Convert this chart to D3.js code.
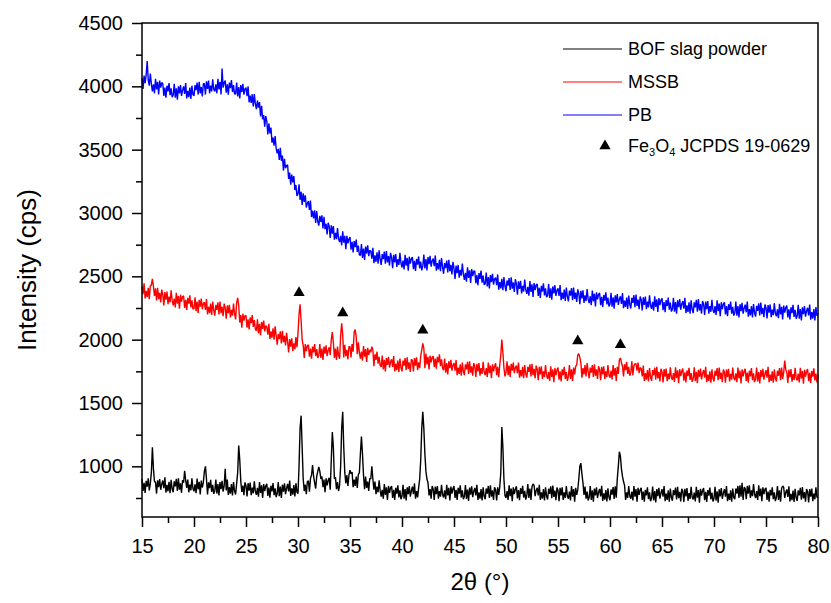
<!DOCTYPE html>
<html>
<head>
<meta charset="utf-8">
<script src="https://cdn.jsdelivr.net/npm/d3@7"></script>
<style>
  body { margin: 0; background: #fff; }
  text { font-family: 'Liberation Sans', Arial, sans-serif; fill: #000; }
</style>
</head>
<body>
<div id="chart"></div>
<script>
// XRD scans, 2theta from 15 to 80 in 0.1 degree steps (one row = 1 degree)
var angleStart = 15
var angleStep = 0.1

var bofSlag = [
  900, 805, 870, 790, 885, 840, 905, 810, 865, 950,
  1150, 980, 880, 875, 785, 890, 835, 900, 815, 860,
  888, 828, 913, 793, 853, 803, 878, 788, 893, 823,
  796, 881, 841, 901, 806, 906, 816, 866, 791, 891,
  870, 965, 890, 830, 895, 795, 855, 810, 905, 825,
  803, 858, 788, 903, 818, 878, 778, 888, 833, 873,
  960, 1000, 900, 778, 873, 828, 893, 798, 853, 783,
  805, 895, 785, 860, 770, 875, 820, 885, 800, 845,
  980, 810, 895, 775, 835, 785, 860, 770, 875, 805,
  778, 863, 950, 1165, 1050, 880, 798, 848, 773, 873,
  847, 762, 867, 807, 872, 772, 832, 787, 882, 802,
  775, 830, 760, 875, 790, 850, 750, 860, 805, 845,
  862, 767, 832, 752, 847, 802, 867, 772, 827, 757,
  785, 875, 765, 840, 750, 855, 800, 865, 780, 825,
  862, 802, 887, 767, 827, 777, 852, 762, 867, 797,
  785, 1000, 1300, 1400, 1150, 900, 805, 855, 780, 880,
  885, 800, 905, 930, 1010, 920, 870, 825, 920, 960,
  995, 960, 900, 920, 835, 895, 795, 905, 850, 890,
  910, 815, 1050, 1270, 1150, 900, 915, 820, 875, 805,
  850, 1000, 1300, 1430, 1150, 950, 865, 930, 845, 930,
  970, 940, 955, 835, 895, 845, 920, 830, 935, 950,
  1100, 1235, 1100, 930, 820, 920, 830, 880, 805, 905,
  900, 1000, 900, 815, 880, 780, 840, 795, 890, 810,
  760, 815, 745, 860, 775, 835, 735, 845, 790, 830,
  845, 750, 815, 735, 830, 785, 850, 755, 810, 740,
  765, 855, 745, 820, 730, 835, 780, 845, 760, 805,
  840, 780, 865, 745, 805, 755, 830, 900, 1050, 1300,
  1430, 1300, 1100, 960, 900, 870, 770, 820, 745, 845,
  820, 735, 840, 780, 845, 745, 805, 760, 855, 775,
  755, 810, 740, 855, 770, 830, 730, 840, 785, 825,
  845, 750, 815, 735, 830, 785, 850, 755, 810, 740,
  762, 852, 742, 817, 727, 832, 777, 842, 757, 802,
  830, 770, 855, 735, 795, 745, 820, 730, 835, 765,
  740, 825, 785, 845, 750, 850, 760, 810, 735, 835,
  815, 730, 835, 775, 840, 950, 1310, 1150, 900, 770,
  750, 805, 735, 850, 765, 825, 725, 835, 780, 820,
  842, 747, 812, 732, 827, 782, 847, 752, 807, 737,
  770, 860, 750, 825, 735, 840, 860, 850, 765, 810,
  830, 770, 855, 735, 795, 745, 820, 730, 835, 765,
  738, 823, 783, 843, 748, 848, 758, 808, 733, 833,
  810, 725, 830, 770, 835, 735, 795, 750, 845, 765,
  745, 800, 730, 845, 760, 820, 720, 830, 775, 815,
  900, 1000, 1025, 940, 870, 775, 840, 745, 800, 730,
  755, 845, 735, 810, 720, 825, 770, 835, 750, 795,
  822, 762, 847, 727, 787, 737, 812, 722, 827, 757,
  732, 817, 777, 837, 742, 842, 752, 900, 1000, 1115,
  1080, 980, 920, 880, 850, 735, 795, 750, 845, 765,
  745, 800, 730, 845, 760, 820, 720, 830, 775, 815,
  830, 735, 800, 720, 815, 770, 835, 740, 795, 725,
  750, 840, 730, 805, 715, 820, 765, 830, 745, 790,
  820, 760, 845, 725, 785, 735, 810, 720, 825, 755,
  728, 813, 773, 833, 738, 838, 748, 798, 723, 823,
  803, 718, 823, 763, 828, 728, 788, 743, 838, 758,
  738, 793, 723, 838, 753, 813, 713, 823, 768, 808,
  828, 733, 798, 718, 813, 768, 833, 738, 793, 723,
  748, 838, 728, 803, 713, 818, 763, 828, 743, 788,
  820, 760, 845, 725, 785, 735, 810, 720, 825, 755,
  740, 825, 785, 845, 750, 850, 760, 870, 735, 835,
  825, 740, 845, 785, 850, 750, 810, 765, 860, 780,
  750, 805, 735, 850, 765, 825, 725, 835, 780, 820,
  830, 735, 800, 720, 815, 770, 835, 740, 795, 725,
  755, 845, 735, 810, 720, 825, 845, 835, 750, 795,
  818, 758, 843, 723, 783, 733, 808, 718, 823, 753,
  726, 811, 771, 831, 736, 836, 746, 796, 721, 821,
  800, 715, 820, 760, 825, 725, 785, 740, 835, 755,
  760
]

var mssb = [
  2420, 2360, 2445, 2325, 2385, 2335, 2410, 2320, 2425, 2430,
  2480, 2420, 2345, 2405, 2310, 2410, 2320, 2370, 2295, 2395,
  2355, 2270, 2375, 2315, 2380, 2280, 2340, 2295, 2390, 2310,
  2270, 2325, 2255, 2370, 2285, 2345, 2245, 2355, 2300, 2340,
  2345, 2250, 2315, 2235, 2330, 2285, 2350, 2255, 2310, 2240,
  2245, 2335, 2225, 2300, 2210, 2315, 2260, 2325, 2240, 2285,
  2295, 2235, 2320, 2200, 2260, 2210, 2285, 2195, 2300, 2230,
  2190, 2275, 2235, 2295, 2200, 2300, 2210, 2260, 2185, 2285,
  2250, 2165, 2270, 2210, 2275, 2175, 2235, 2190, 2285, 2205,
  2160, 2290, 2330, 2270, 2135, 2195, 2095, 2205, 2150, 2190,
  2190, 2095, 2160, 2080, 2175, 2130, 2195, 2100, 2155, 2085,
  2070, 2160, 2050, 2125, 2035, 2140, 2085, 2150, 2065, 2110,
  2100, 2040, 2125, 2005, 2065, 2015, 2090, 2000, 2105, 2035,
  1960, 2045, 2005, 2065, 1970, 2070, 1980, 2030, 1955, 2055,
  1985, 1900, 2005, 1945, 2010, 1910, 1970, 1925, 2020, 1940,
  2050, 2200, 2280, 2150, 2000, 1955, 1855, 1965, 1910, 1950,
  1960, 1865, 1930, 1850, 1945, 1900, 1965, 1870, 1925, 1855,
  1875, 1965, 1855, 1930, 1840, 1945, 1890, 1955, 1870, 1915,
  1940, 1880, 2000, 2060, 1980, 1855, 1930, 1840, 1945, 1875,
  1850, 2030, 2130, 2040, 1860, 1960, 1870, 1920, 1845, 1945,
  1945, 1860, 1965, 1905, 2060, 2080, 2020, 1885, 1980, 1900,
  1850, 1905, 1835, 1950, 1865, 1925, 1825, 1935, 1880, 1920,
  1900, 1945, 1920, 1790, 1885, 1840, 1905, 1810, 1865, 1795,
  1785, 1875, 1765, 1840, 1750, 1855, 1800, 1865, 1780, 1825,
  1845, 1785, 1870, 1750, 1810, 1760, 1835, 1745, 1850, 1780,
  1750, 1835, 1795, 1855, 1760, 1860, 1770, 1820, 1745, 1845,
  1835, 1750, 1855, 1795, 1860, 1760, 1820, 1775, 1870, 1920,
  1970, 1930, 1775, 1890, 1805, 1865, 1765, 1875, 1820, 1860,
  1870, 1785, 1850, 1770, 1865, 1820, 1885, 1790, 1845, 1775,
  1760, 1850, 1740, 1815, 1725, 1830, 1775, 1840, 1755, 1800,
  1815, 1755, 1840, 1720, 1780, 1730, 1805, 1715, 1820, 1750,
  1720, 1805, 1765, 1825, 1730, 1830, 1740, 1790, 1715, 1815,
  1790, 1705, 1810, 1750, 1815, 1715, 1775, 1730, 1825, 1745,
  1720, 1775, 1705, 1820, 1735, 1795, 1695, 1805, 1750, 1790,
  1815, 1720, 1785, 1705, 1800, 1880, 2000, 1900, 1780, 1710,
  1740, 1830, 1720, 1795, 1705, 1810, 1755, 1820, 1735, 1780,
  1795, 1735, 1820, 1700, 1760, 1710, 1785, 1695, 1800, 1730,
  1700, 1785, 1745, 1805, 1710, 1810, 1720, 1770, 1695, 1795,
  1765, 1680, 1785, 1725, 1790, 1690, 1750, 1705, 1800, 1720,
  1690, 1745, 1675, 1790, 1705, 1765, 1665, 1775, 1720, 1760,
  1780, 1685, 1750, 1670, 1765, 1720, 1785, 1690, 1745, 1675,
  1710, 1800, 1690, 1765, 1675, 1780, 1725, 1790, 1800, 1880,
  1890, 1860, 1815, 1700, 1775, 1725, 1800, 1710, 1815, 1745,
  1695, 1780, 1740, 1800, 1705, 1805, 1715, 1765, 1690, 1790,
  1765, 1680, 1785, 1725, 1790, 1690, 1750, 1705, 1800, 1720,
  1700, 1755, 1685, 1800, 1715, 1775, 1675, 1785, 1730, 1840,
  1855, 1820, 1790, 1710, 1805, 1760, 1825, 1730, 1785, 1715,
  1740, 1830, 1720, 1795, 1810, 1810, 1755, 1820, 1735, 1780,
  1770, 1710, 1795, 1675, 1735, 1685, 1760, 1670, 1775, 1705,
  1675, 1760, 1720, 1780, 1685, 1785, 1695, 1745, 1670, 1770,
  1747, 1662, 1767, 1707, 1772, 1672, 1732, 1687, 1782, 1702,
  1682, 1737, 1667, 1782, 1697, 1757, 1657, 1767, 1712, 1752,
  1772, 1677, 1742, 1662, 1757, 1712, 1777, 1682, 1737, 1667,
  1692, 1782, 1672, 1747, 1657, 1762, 1707, 1772, 1687, 1732,
  1760, 1700, 1785, 1665, 1725, 1675, 1750, 1660, 1765, 1695,
  1670, 1755, 1715, 1775, 1680, 1780, 1690, 1740, 1665, 1765,
  1745, 1660, 1765, 1705, 1770, 1670, 1730, 1685, 1780, 1700,
  1680, 1735, 1665, 1780, 1695, 1755, 1655, 1765, 1710, 1750,
  1770, 1675, 1740, 1660, 1755, 1710, 1775, 1680, 1735, 1665,
  1690, 1780, 1670, 1745, 1655, 1760, 1705, 1770, 1685, 1730,
  1760, 1700, 1785, 1665, 1725, 1675, 1750, 1660, 1765, 1695,
  1670, 1755, 1715, 1775, 1680, 1780, 1690, 1740, 1835, 1765,
  1743, 1658, 1763, 1703, 1768, 1668, 1728, 1683, 1778, 1698,
  1678, 1733, 1663, 1778, 1693, 1753, 1653, 1763, 1708, 1748,
  1768, 1673, 1738, 1658, 1753, 1708, 1773, 1678, 1733, 1663,
  1720
]

var pb = [
  4065, 3980, 4085, 4025, 4090, 4200, 4050, 4005, 4100, 4020,
  3960, 4015, 3945, 4060, 3975, 4035, 3935, 4045, 3990, 4030,
  4020, 3925, 3990, 3910, 4005, 3960, 4025, 3930, 3985, 3915,
  3930, 4020, 3910, 3985, 3895, 4000, 3945, 4010, 3925, 3970,
  4000, 3940, 4025, 3905, 3965, 3915, 3990, 3900, 4005, 3935,
  3925, 4010, 3970, 4030, 3935, 4035, 3945, 3995, 3920, 4020,
  4020, 3935, 4040, 3980, 4045, 3945, 4005, 3960, 4055, 3975,
  3960, 4015, 3945, 4060, 3975, 4035, 3935, 4140, 3990, 4030,
  4045, 3950, 4015, 3935, 4030, 3985, 4050, 3955, 4010, 3940,
  3940, 4030, 3920, 3995, 3905, 4010, 3955, 4020, 3935, 3980,
  3990, 3923, 4001, 3874, 3927, 3870, 3938, 3841, 3939, 3862,
  3820, 3888, 3832, 3875, 3763, 3847, 3740, 3773, 3682, 3765,
  3725, 3621, 3707, 3628, 3674, 3555, 3596, 3532, 3608, 3510,
  3470, 3507, 3418, 3515, 3412, 3453, 3335, 3427, 3353, 3375,
  3380, 3269, 3319, 3223, 3303, 3242, 3292, 3181, 3221, 3135,
  3150, 3227, 3104, 3167, 3064, 3156, 3088, 3140, 3043, 3075,
  3095, 3024, 3099, 2968, 3018, 2957, 3022, 2921, 3016, 2935,
  2900, 2977, 2929, 2981, 2878, 2970, 2872, 2914, 2831, 2923,
  2895, 2804, 2903, 2837, 2896, 2790, 2844, 2793, 2882, 2796,
  2770, 2820, 2745, 2855, 2765, 2820, 2715, 2820, 2760, 2795,
  2810, 2711, 2772, 2688, 2779, 2730, 2791, 2692, 2743, 2669,
  2665, 2755, 2645, 2720, 2630, 2735, 2680, 2745, 2660, 2705,
  2700, 2640, 2725, 2605, 2665, 2615, 2690, 2600, 2705, 2635,
  2590, 2675, 2635, 2695, 2600, 2700, 2610, 2660, 2585, 2685,
  2650, 2565, 2670, 2610, 2675, 2575, 2635, 2590, 2685, 2605,
  2570, 2625, 2555, 2670, 2585, 2645, 2545, 2655, 2600, 2640,
  2652, 2557, 2622, 2542, 2637, 2592, 2657, 2562, 2617, 2547,
  2582, 2672, 2562, 2637, 2547, 2652, 2597, 2662, 2577, 2622,
  2640, 2580, 2665, 2545, 2605, 2555, 2630, 2540, 2645, 2575,
  2520, 2605, 2565, 2625, 2530, 2630, 2540, 2590, 2515, 2615,
  2565, 2480, 2585, 2525, 2590, 2490, 2550, 2505, 2600, 2520,
  2472, 2527, 2457, 2572, 2487, 2547, 2447, 2557, 2502, 2542,
  2540, 2445, 2510, 2430, 2525, 2480, 2545, 2450, 2505, 2435,
  2440, 2530, 2420, 2495, 2405, 2510, 2455, 2520, 2435, 2480,
  2490, 2430, 2515, 2395, 2455, 2405, 2480, 2390, 2495, 2425,
  2382, 2467, 2427, 2487, 2392, 2492, 2402, 2452, 2377, 2477,
  2440, 2355, 2460, 2400, 2465, 2365, 2425, 2380, 2475, 2395,
  2362, 2417, 2347, 2462, 2377, 2437, 2337, 2447, 2392, 2432,
  2440, 2345, 2410, 2330, 2425, 2380, 2445, 2350, 2405, 2335,
  2350, 2440, 2330, 2405, 2315, 2420, 2365, 2430, 2345, 2390,
  2406, 2346, 2431, 2311, 2371, 2321, 2396, 2306, 2411, 2341,
  2302, 2387, 2347, 2407, 2312, 2412, 2322, 2372, 2297, 2397,
  2365, 2280, 2385, 2325, 2390, 2290, 2350, 2305, 2400, 2320,
  2288, 2343, 2273, 2388, 2303, 2363, 2263, 2373, 2318, 2358,
  2368, 2273, 2338, 2258, 2353, 2308, 2373, 2278, 2333, 2263,
  2280, 2370, 2260, 2335, 2245, 2350, 2295, 2360, 2275, 2320,
  2343, 2283, 2368, 2248, 2308, 2258, 2333, 2243, 2348, 2278,
  2246, 2331, 2291, 2351, 2256, 2356, 2266, 2316, 2241, 2341,
  2315, 2230, 2335, 2275, 2340, 2240, 2300, 2255, 2350, 2270,
  2243, 2298, 2228, 2343, 2258, 2318, 2218, 2328, 2273, 2313,
  2327, 2232, 2297, 2217, 2312, 2267, 2332, 2237, 2292, 2222,
  2241, 2331, 2221, 2296, 2206, 2311, 2256, 2321, 2236, 2281,
  2305, 2245, 2330, 2210, 2270, 2220, 2295, 2205, 2310, 2240,
  2210, 2295, 2255, 2315, 2220, 2320, 2230, 2280, 2205, 2305,
  2280, 2195, 2300, 2240, 2305, 2205, 2265, 2220, 2315, 2235,
  2210, 2265, 2195, 2310, 2225, 2285, 2185, 2295, 2240, 2280,
  2295, 2200, 2265, 2185, 2280, 2235, 2300, 2205, 2260, 2190,
  2210, 2300, 2190, 2265, 2175, 2280, 2225, 2290, 2205, 2250,
  2276, 2216, 2301, 2181, 2241, 2191, 2266, 2176, 2281, 2211,
  2182, 2267, 2227, 2287, 2192, 2292, 2202, 2252, 2177, 2277,
  2253, 2168, 2273, 2213, 2278, 2178, 2238, 2193, 2288, 2208,
  2184, 2239, 2169, 2284, 2199, 2259, 2159, 2269, 2214, 2254,
  2270, 2175, 2240, 2160, 2255, 2210, 2275, 2180, 2235, 2165,
  2186, 2276, 2166, 2241, 2151, 2256, 2201, 2266, 2181, 2226,
  2252, 2192, 2277, 2157, 2217, 2167, 2242, 2152, 2257, 2187,
  2208
]

// Fe3O4 reflections marked above the MSSB trace
var fe3o4Angles = [30.1, 34.3, 42.0, 56.9, 61.0]
var fe3o4Marks = [2370, 2210, 2075, 1990, 1960]

var xTicks = [15, 20, 25, 30, 35, 40, 45, 50, 55, 60, 65, 70, 75, 80]
var yTicks = [1000, 1500, 2000, 2500, 3000, 3500, 4000, 4500]

var seriesNames = ['BOF slag powder', 'MSSB', 'PB']
var seriesColors = ['#000000', '#ff0000', '#0000ff']

var margin = { top: 23, left: 142, right: 13, bottom: 86 }
var width = 831 - margin.left - margin.right
var height = 603 - margin.top - margin.bottom

var svg = d3
  .select('#chart')
  .append('svg')
  .attr('width', width + margin.left + margin.right)
  .attr('height', height + margin.top + margin.bottom)
  .append('g')
  .attr('transform', 'translate(' + margin.left + ',' + margin.top + ')')

var xScale = d3.scaleLinear().domain([15, 80]).range([0, width])
var yScale = d3.scaleLinear().domain([600, 4500]).range([height, 0])

var line = d3
  .line()
  .x((d, i) => xScale(angleStart + i * angleStep))
  .y(d => yScale(d))

// traces
;[bofSlag, mssb, pb].forEach((s, i) => {
  svg
    .append('path')
    .datum(s)
    .attr('d', line)
    .attr('fill', 'none')
    .attr('stroke', seriesColors[i])
    .attr('stroke-width', 1.4)
    .attr('stroke-linejoin', 'bevel')
})

// triangles
var tri = d3.symbol().type(d3.symbolTriangle).size(55)
svg
  .selectAll('.peak')
  .data(fe3o4Angles)
  .enter()
  .append('path')
  .attr('class', 'peak')
  .attr('d', tri)
  .attr('transform', (d, i) => 'translate(' + xScale(d) + ',' + yScale(fe3o4Marks[i]) + ')')
  .attr('fill', '#000')

// axes
var xAxis = d3
  .axisBottom(xScale)
  .tickValues(xTicks)
  .tickSize(10)
  .tickSizeOuter(0)
  .tickPadding(12)
  .tickFormat(d3.format('d'))
var xMinor = d3
  .axisBottom(xScale)
  .tickValues(xTicks.slice(0, -1).map(d => d + 2.5))
  .tickSize(6)
  .tickSizeOuter(0)
  .tickFormat('')

var yAxis = d3
  .axisLeft(yScale)
  .tickValues(yTicks)
  .tickSize(10)
  .tickSizeOuter(0)
  .tickPadding(9)
  .tickFormat(d3.format('d'))
var yMinor = d3
  .axisLeft(yScale)
  .tickValues([750].concat(yTicks.slice(0, -1).map(d => d + 250)))
  .tickSize(6)
  .tickSizeOuter(0)
  .tickFormat('')

svg.append('g').attr('class', 'axis').attr('transform', 'translate(0,' + height + ')').call(xAxis)
svg.append('g').attr('class', 'axis').attr('transform', 'translate(0,' + height + ')').call(xMinor)
svg.append('g').attr('class', 'axis').call(yAxis)
svg.append('g').attr('class', 'axis').call(yMinor)

svg.selectAll('.axis .domain').remove()
svg
  .selectAll('.axis line')
  .attr('stroke', '#000')
  .attr('stroke-width', 1.5)
svg
  .selectAll('.axis text')
  .attr('font-size', 20)
  .attr('font-family', "'Liberation Sans', Arial, sans-serif")
  .attr('fill', '#000')

// frame
svg
  .append('rect')
  .attr('width', width)
  .attr('height', height)
  .attr('fill', 'none')
  .attr('stroke', '#000')
  .attr('stroke-width', 1.5)

// axis titles
svg
  .append('text')
  .attr('x', width / 2)
  .attr('y', height + 73)
  .attr('text-anchor', 'middle')
  .attr('font-size', 24)
  .text('2θ (°)')

svg
  .append('text')
  .attr('transform', 'translate(' + (-106) + ',' + height / 2 + ') rotate(-90)')
  .attr('text-anchor', 'middle')
  .attr('font-size', 26)
  .text('Intensity (cps)')

// legend
var legend = svg.append('g').attr('transform', 'translate(421,26)')

seriesNames.forEach((name, i) => {
  var row = legend.append('g').attr('transform', 'translate(0,' + i * 33 + ')')
  row
    .append('line')
    .attr('x1', 0)
    .attr('x2', 59)
    .attr('stroke', seriesColors[i])
    .attr('stroke-width', 1)
  row
    .append('text')
    .attr('x', 65)
    .attr('y', 6)
    .attr('font-size', 18)
    .text(name)
})

var fRow = legend.append('g').attr('transform', 'translate(0,' + 97 + ')')
fRow.append('path').attr('d', tri).attr('transform', 'translate(42,0)').attr('fill', '#000')
var fText = fRow
  .append('text')
  .attr('x', 65)
  .attr('y', 6)
  .attr('font-size', 18)
fText.append('tspan').text('Fe')
fText.append('tspan').attr('font-size', 11).attr('dy', 4).text('3')
fText.append('tspan').attr('dy', -4).text('O')
fText.append('tspan').attr('font-size', 11).attr('dy', 4).text('4')
fText.append('tspan').attr('dy', -4).text(' JCPDS 19-0629')
</script>
</body>
</html>
